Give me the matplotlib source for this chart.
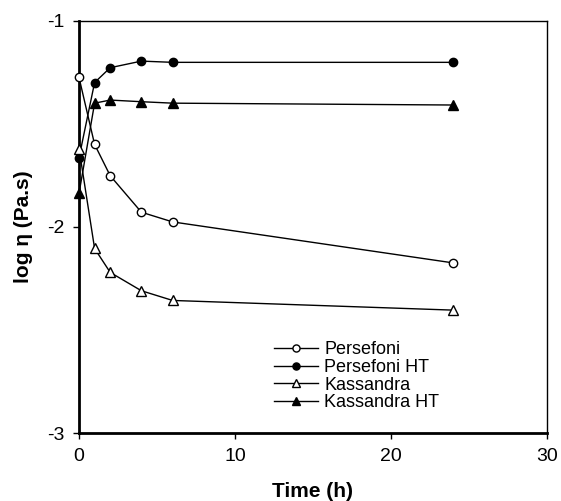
import numpy as np
import matplotlib.pyplot as plt

plt.rcParams['font.family'] = ['Liberation Sans', 'DejaVu Sans']
plt.rcParams['axes.unicode_minus'] = False

# tiempo (h)
time = [0, 1, 2, 4, 6, 24]

persefoni = [-1.275, -1.60, -1.752, -1.929, -1.976, -2.175]
persefoni_ht = [-1.665, -1.30, -1.228, -1.196, -1.202, -1.202]
kassandra = [-1.62, -2.105, -2.221, -2.31, -2.357, -2.404]
kassandra_ht = [-1.838, -1.40, -1.385, -1.393, -1.40, -1.409]

fig = plt.figure(figsize=(5.61, 5.01), dpi=100)
ax = fig.add_axes([79/561, 1 - 433/501, (547-79)/561, (433-20.7)/501])

ax.plot(time, persefoni, '-o', color='black', mfc='white', mec='black', ms=6, lw=1, mew=1,
        label="Persefoni", clip_on=False, zorder=3)
ax.plot(time, persefoni_ht, '-o', color='black', ms=6, lw=1,
        label="Persefoni HT", clip_on=False, zorder=3)
ax.plot(time, kassandra, '-^', color='black', mfc='white', mec='black', ms=7, lw=1, mew=1,
        label="Kassandra", clip_on=False, zorder=3)
ax.plot(time, kassandra_ht, '-^', color='black', ms=7, lw=1,
        label="Kassandra HT", clip_on=False, zorder=3)

ax.set_xlim(0, 30)
ax.set_ylim(-3, -1)
ax.set_xticks([0, 10, 20, 30])
ax.set_yticks([-3, -2, -1])
ax.tick_params(direction='out', length=4.5, width=1, labelsize=14, pad=6, top=False, right=False)

ax.spines['left'].set_linewidth(2)
ax.spines['bottom'].set_linewidth(2)
ax.spines['top'].set_linewidth(1)
ax.spines['right'].set_linewidth(1)

ax.set_xlabel("Time (h)", fontsize=15, fontweight='bold')
ax.set_ylabel("log η (Pa.s)", fontsize=15, fontweight='bold')
ax.xaxis.set_label_coords(0.5, -0.118)
ax.yaxis.set_label_coords(-0.098, 0.5)

leg = ax.legend(loc='upper left', bbox_to_anchor=(0.4167, 0.222), frameon=False, fontsize=13,
                handlelength=2.44, handletextpad=0.33, labelspacing=0.03, borderpad=0,
                borderaxespad=0, markerscale=0.85)

fig.savefig("out.png")
plt.close(fig)
